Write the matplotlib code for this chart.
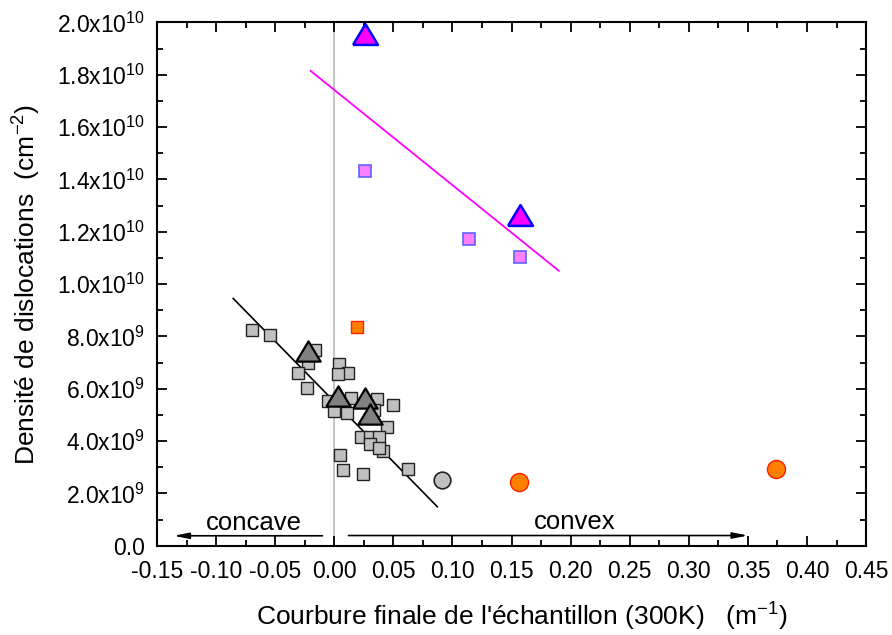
import matplotlib
matplotlib.use("Agg")
import matplotlib.pyplot as plt   # type: ignore
from matplotlib.ticker import MultipleLocator, FuncFormatter   # type: ignore

plt.rcParams["font.family"] = ["Liberation Sans", "DejaVu Sans"]
plt.rcParams["mathtext.fontset"] = "custom"
plt.rcParams["mathtext.rm"] = "Liberation Sans"
plt.rcParams["mathtext.it"] = "Liberation Sans:italic"

# gray squares (samples, concave and convex)
sq_x = [-0.070, -0.054, -0.016, -0.022, -0.031, -0.023, 0.004, 0.012,
        0.003, -0.005, 0.000, 0.014, 0.011, 0.036, 0.050, 0.034, 0.045,
        0.023, 0.030, 0.038, 0.030, 0.041, 0.038, 0.005, 0.007, 0.024,
        0.062]
sq_y = [8.26e9, 8.07e9, 7.48e9, 6.97e9, 6.59e9, 6.04e9, 6.94e9, 6.59e9,
        6.55e9, 5.53e9, 5.16e9, 5.63e9, 5.08e9, 5.59e9, 5.38e9, 5.19e9,
        4.52e9, 4.14e9, 4.17e9, 4.14e9, 3.89e9, 3.63e9, 3.72e9, 3.45e9,
        2.88e9, 2.73e9, 2.93e9]

# dark gray triangles
tri_x = [-0.022, 0.003, 0.026, 0.030]
tri_y = [7.43e9, 5.73e9, 5.63e9, 5.02e9]

# gray circle
circ_x = [0.091]
circ_y = [2.52e9]

# orange points
or_sq_x = [0.019]
or_sq_y = [8.37e9]
or_circ_x = [0.156, 0.374]
or_circ_y = [2.42e9, 2.94e9]

# magenta points
mg_sq_x = [0.026, 0.114, 0.157]
mg_sq_y = [14.33e9, 11.72e9, 11.02e9]
mg_tri_x = [0.026, 0.157]
mg_tri_y = [19.55e9, 12.65e9]

# linear fits
fit_black_x = [-0.0855, 0.0872]
fit_black_y = [9.45e9, 1.49e9]
fit_mg_x = [-0.020, 0.190]
fit_mg_y = [18.15e9, 10.51e9]

# a triangle a bit wider than tall, like the original
TRI = [(-1.2, -1), (1.2, -1), (0, 1), (-1.2, -1)]


def y_fmt(v, pos):
    if abs(v) < 1:
        return "0.0"
    exp = 9 if v < 1e10 - 1 else 10
    return r"$\mathregular{%.1fx10^{%d}}$" % (v / 10 ** exp, exp)


fig = plt.figure(figsize=(8.92, 6.35), dpi=100)
ax = fig.add_axes([0.176, 0.1406, 0.795, 0.824])

ax.axvline(0, color="#c0c0c0", lw=1.3, zorder=1)

ax.plot(fit_black_x, fit_black_y, color="black", lw=1.2, zorder=2)
ax.plot(fit_mg_x, fit_mg_y, color="#ff00ff", lw=1.3, zorder=2)

ax.plot(sq_x, sq_y, "s", ms=8.5, mfc="#c0c0c0", mec="#222222", mew=1.0,
        ls="none", zorder=3)
ax.plot(tri_x, tri_y, marker=TRI, ms=17.5, mfc="#808080", mec="black",
        mew=1.6, ls="none", zorder=4)
ax.plot(circ_x, circ_y, "o", ms=12, mfc="#c0c0c0", mec="#222222", mew=1.2,
        ls="none", zorder=3)

ax.plot(or_sq_x, or_sq_y, "s", ms=8.5, mfc="#ff8000", mec="#ff2000",
        mew=1.0, ls="none", zorder=3)
ax.plot(or_circ_x, or_circ_y, "o", ms=13, mfc="#ff8000", mec="#ff2000",
        mew=1.0, ls="none", zorder=3)

ax.plot(mg_sq_x, mg_sq_y, "s", ms=8.5, mfc="#ff80ff", mec="#6060ff",
        mew=1.2, ls="none", zorder=3)
ax.plot(mg_tri_x, mg_tri_y, marker=TRI, ms=18, mfc="#ff00ff", mec="#0000ff",
        mew=1.8, ls="none", zorder=4)

# concave / convex arrows
arrow = dict(arrowstyle="-|>,head_length=0.9,head_width=0.18",
             color="black", lw=1.2, shrinkA=0, shrinkB=0)
ax.annotate("", xy=(-0.136, 0.38e9), xytext=(-0.010, 0.38e9),
            arrowprops=arrow)
ax.annotate("", xy=(0.350, 0.39e9), xytext=(0.012, 0.39e9),
            arrowprops=arrow)
ax.text(-0.068, 0.88e9, "concave", ha="center", va="center", fontsize=18.5)
ax.text(0.203, 0.92e9, "convex", ha="center", va="center", fontsize=18.5)

ax.set_xlim(-0.15, 0.45)
ax.set_ylim(0, 2.0e10)
ax.xaxis.set_major_locator(MultipleLocator(0.05))
ax.xaxis.set_minor_locator(MultipleLocator(0.025))
ax.yaxis.set_major_locator(MultipleLocator(2e9))
ax.yaxis.set_minor_locator(MultipleLocator(1e9))
ax.xaxis.set_major_formatter(FuncFormatter(lambda v, p: "%.2f" % v))
ax.yaxis.set_major_formatter(FuncFormatter(y_fmt))

ax.tick_params(which="both", direction="in", top=True, right=True,
               width=1.3, labelsize=16.5)
ax.tick_params(which="major", length=7)
ax.tick_params(which="minor", length=4.5)
ax.tick_params(axis="x", which="major", pad=10)
ax.tick_params(axis="y", which="major", pad=8.5)
for sp in ax.spines.values():
    sp.set_linewidth(1.5)

ax.set_xlabel(r"Courbure finale de l'échantillon (300K)   (m$^{\mathregular{-1}}$)",
              fontsize=19, va="center")
ax.set_ylabel(r"Densité de dislocations  (cm$^{\mathregular{-2}}$)",
              fontsize=19, va="center")
ax.xaxis.set_label_coords(0.515, -0.136)
ax.yaxis.set_label_coords(-0.183, 0.5)

fig.savefig("out.png", dpi=100)
